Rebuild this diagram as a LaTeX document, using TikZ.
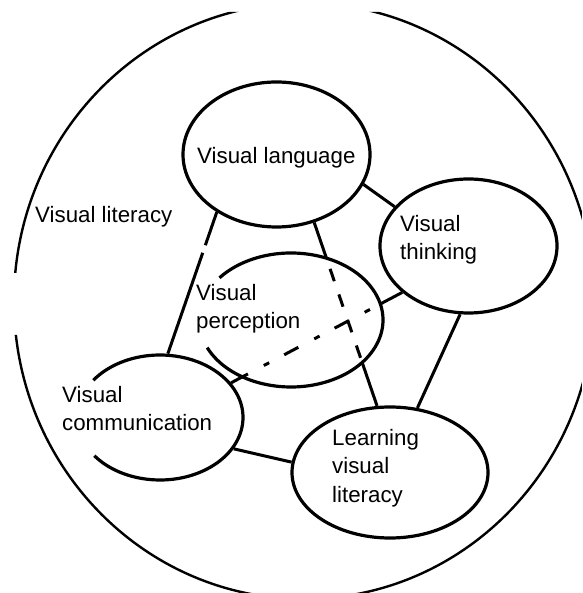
\documentclass[tikz,border=0pt]{standalone}
\usepackage{fontspec}
\setmainfont{Liberation Sans}
\usetikzlibrary{shapes.geometric}
\tikzset{
  bubble/.style={ellipse, draw, line width=3.2pt, inner sep=0pt},
  openbubble/.style={ellipse, draw=none, inner sep=0pt, outer sep=1.6pt},
  link/.style={line width=3pt},
  lbl/.style={inner sep=0pt, anchor=north west, align=left, font=\fontsize{22.3}{28.5}\selectfont},
}
\begin{document}
\begin{tikzpicture}[x=1pt,y=1pt]
\useasboundingbox (0,0) rectangle (582,593);
\fill[white] (0,0) rectangle (582,593);
\begin{scope}
\clip (0,0) -- (582,0) -- (582,581) -- (0,581) -- (0,320) -- (30,320) -- (30,258) -- (0,258) -- cycle;
\draw[line width=2.4pt] (304,292) ellipse [x radius=290pt, y radius=298pt];
\end{scope}
% ellipses
\node[bubble, minimum width=187pt, minimum height=145pt] (vl) at (276.5,438.5) {};
\node[bubble, minimum width=177pt, minimum height=134pt] (vt) at (468.5,347) {};
\node[bubble, minimum width=196pt, minimum height=131pt] (learn) at (390,120.5) {};
\node[openbubble, minimum width=184pt, minimum height=134pt] (perc) at (291,273) {};
\node[openbubble, minimum width=166pt, minimum height=125pt] (comm) at (160,175.5) {};
% connectors
\draw[link] (vl.-19.2) -- (vt.152.4);
\draw[link, dash pattern=on 35pt off 8pt on 300pt off 1pt] (vl.-136.9) -- (comm.83.6);
\draw[link] (vl.-61.95) -- (learn.101.2);
\draw[link] (vt.-97.2) -- (learn.67.3);
\draw[link] (comm.-23.7) -- (learn.174.4);
\draw[link] (comm.26.9) -- (vt.-145.6);
% hidden parts behind perception
\fill[white] (perc.center) ellipse [x radius=92pt, y radius=67pt];
\begin{scope}
\clip (perc.center) ellipse [x radius=92pt, y radius=67pt];
\draw[link, dash pattern=on 13pt off 14pt, dash phase=5pt] (vl.-61.95) -- (learn.101.2);
\draw[link, dash pattern=on 16pt off 18pt on 6pt off 17pt, dash phase=54pt] (comm.26.9) -- (vt.-145.6);
\end{scope}
\draw[line width=3.2pt] (perc.center) ++(-155.7:92pt and 67pt) arc[start angle=-155.7, end angle=141, x radius=92pt, y radius=67pt];
\draw[line width=3.2pt] (comm.center) ++(-142.3:83pt and 62.5pt) arc[start angle=-142.3, end angle=143.4, x radius=83pt, y radius=62.5pt];
% labels
\node[lbl] (tlit) at (35,387) {Visual literacy};
\node[lbl] (tvl) at (197,446) {Visual language};
\node[lbl] (tvt) at (400,378) {Visual\\thinking};
\node[lbl] (tperc) at (196,309) {Visual\\perception};
\node[lbl] (tcomm) at (62,207.3) {Visual\\communication};
\node[lbl] (tlearn) at (332,164) {Learning\\visual\\literacy};
\end{tikzpicture}
\end{document}
